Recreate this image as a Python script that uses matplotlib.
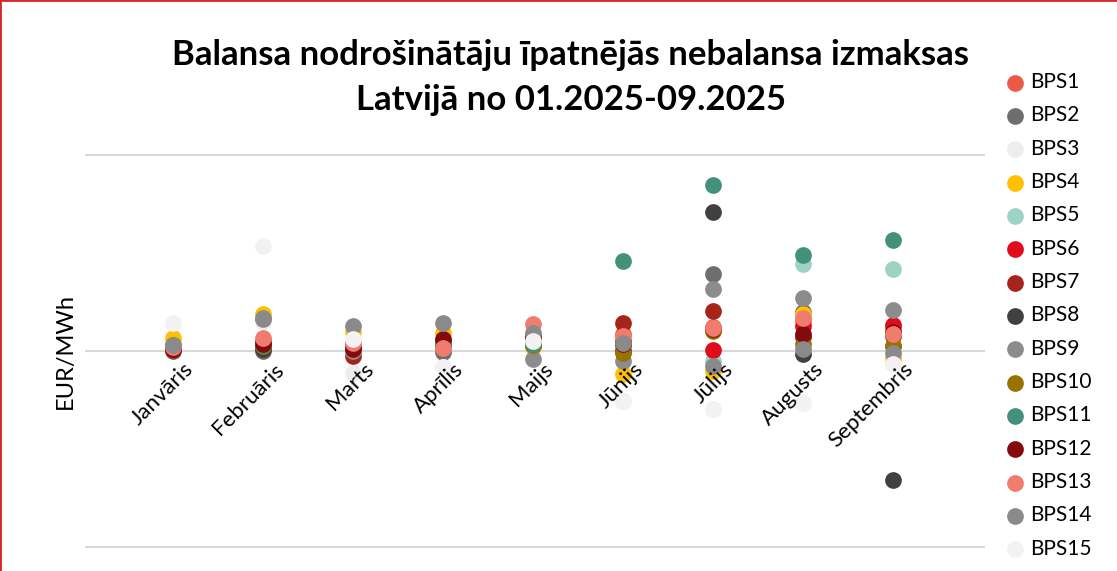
import numpy as np
import matplotlib.pyplot as plt
from matplotlib.lines import Line2D
from matplotlib.transforms import ScaledTranslation

plt.rcParams['font.family'] = ['Lato', 'DejaVu Sans']

months = ["Janvāris", "Februāris", "Marts", "Aprīlis", "Maijs",
          "Jūnijs", "Jūlijs", "Augusts", "Septembris"]

# EUR/MWh per month, one list per BPS
bps1 = [2, 10, 6, 7, 10, 17, 24, 31, 23]
bps2 = [0, 0, 1, -1, 8, 5, 79, 40, 5]
bps3 = [10, 30, -22, -16, 5, -51, -59, -53, -13]
bps4 = [13, 38, 19, 18, 4, -23, -20, 38, -7]
bps5 = [5, 7, 5, 6, 7, 2, -10, 89, 84]
bps6 = [3, 8, 4, 8, 11, 10, 1, 26, 27]
bps7 = [1, 6, -5, 10, 12, 29, 41, 14, 15]
bps8 = [4, 2, 3, 5, 6, 0, 142, -3, -132]
bps9 = [4, 33, 0, 10, -8, -10, 63, 54, 42]
bps10 = [6, 5, 4, 9, 6, -2, 20, 7, 5]
bps11 = [5, 6, 5, 7, 7, 92, 169, 98, 113]
bps12 = [2, 7, 2, 12, 15, 7, 22, 17, 19]
bps13 = [4, 13, 8, 3, 28, 15, 23, 34, 17]
bps14 = [6, 34, 26, 29, 18, 8, -15, 2, -2]
bps15 = [29, 107, 12, -16, 10, -51, -59, -53, -13]

series = [bps1, bps2, bps3, bps4, bps5, bps6, bps7, bps8,
          bps9, bps10, bps11, bps12, bps13, bps14, bps15]
names = ["BPS%d" % (i + 1) for i in range(15)]
colors = ["#EB5A46", "#6E6E6E", "#EDEDED", "#FFC000", "#9DD3C2",
          "#E00B1C", "#A5251A", "#404040", "#8C8C8C", "#997300",
          "#43917A", "#850A0E", "#F07C6E", "#8A8A8A", "#F2F2F2"]

fig = plt.figure(figsize=(11.17, 5.71), dpi=100)
ax = fig.add_axes([85 / 1117, 1 - 549 / 571, 900 / 1117, 396 / 571])

x = np.arange(len(months))
handles = []
for vals, name, col in zip(series, names, colors):
    h = ax.scatter(x, vals, s=145, color=col, label=name, linewidths=0, zorder=2)
    handles.append(h)

ax.set_xlim(-0.98, 9.02)
ax.set_ylim(-202, 202)
ax.set_yticks([-200, 0, 200])
ax.set_yticklabels([])
# gridlines drawn under the points, tick labels stay on top
ax.set_axisbelow(False)
for t in ax.get_yticks():
    ax.axhline(t, color="#D9D9D9", linewidth=1.5, zorder=0.5)
for s in ax.spines.values():
    s.set_visible(False)
ax.spines["bottom"].set_position(("data", 0))
ax.tick_params(axis="both", length=0)
ax.tick_params(axis="x", pad=6)
ax.set_xticks(x)
ax.set_xticklabels(months, rotation=45, ha="right", va="top",
                   rotation_mode="anchor", fontsize=16)
shift = ScaledTranslation(0.10, 0, fig.dpi_scale_trans)
for lab in ax.get_xticklabels():
    lab.set_transform(lab.get_transform() + shift)
ax.set_ylabel("EUR/MWh", fontsize=17)
ax.yaxis.set_label_coords(-20 / 900, 0.5)
ax.yaxis.label.set_va("center")

fig.text(571 / 1117, 1 - 55 / 571,
         "Balansa nodrošinātāju īpatnējās nebalansa izmaksas",
         ha="center", va="center", fontsize=25, fontweight="bold")
fig.text(571 / 1117, 1 - 100 / 571, "Latvijā no 01.2025-09.2025",
         ha="center", va="center", fontsize=25, fontweight="bold")

fig.legend(handles=handles, loc="upper left",
           bbox_to_anchor=(1007 / 1117, 1 - 72 / 571), frameon=False,
           fontsize=15, scatterpoints=1, labelspacing=0.64,
           handlelength=0.8, handletextpad=0.32, borderaxespad=0,
           borderpad=0)

fig.add_artist(Line2D([0, 0], [0, 1], transform=fig.transFigure,
                      color="#D9262B", linewidth=2))
fig.add_artist(Line2D([0, 1], [1, 1], transform=fig.transFigure,
                      color="#D9262B", linewidth=2))

plt.savefig("out.png", dpi=100)
